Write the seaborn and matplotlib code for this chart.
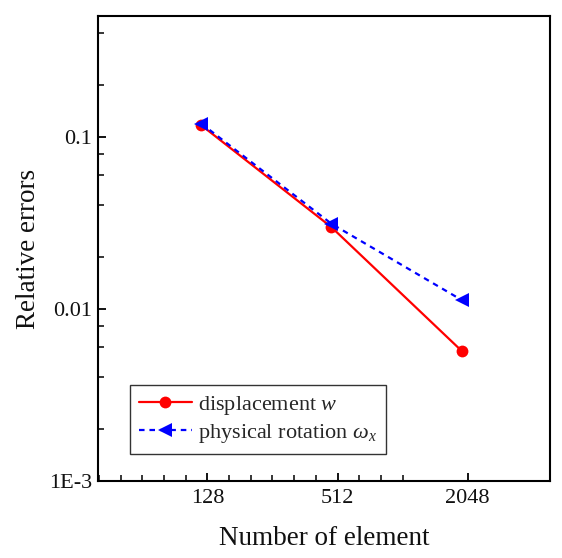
import numpy as np
import pandas as pd
import matplotlib
matplotlib.use("Agg")
import matplotlib.pyplot as plt
import matplotlib.ticker as mticker
import seaborn as sns

# ---- data ----
elements = [120, 480, 1920]
disp_err = [0.117, 0.0299, 0.00571]
rot_err = [0.1197, 0.0313, 0.01128]
series_names = ["displacement $w$", "physical rotation $\\omega_x$"]
xtick_vals = [128, 512, 2048]
xtick_labels = ["128", "512", "2048"]
ytick_vals = [0.001, 0.01, 0.1]
ytick_labels = ["1E-3", "0.01", "0.1"]

sns.set_style("ticks")
plt.rcParams["font.family"] = ["Liberation Serif", "DejaVu Serif"]
plt.rcParams["mathtext.fontset"] = "custom"
plt.rcParams["mathtext.rm"] = "Liberation Serif"
plt.rcParams["mathtext.it"] = "Liberation Serif:italic"
plt.rcParams["mathtext.bf"] = "Liberation Serif:bold"

df = pd.DataFrame({
    "x": elements * 2,
    "y": disp_err + rot_err,
    "series": [series_names[0]] * len(elements) + [series_names[1]] * len(elements),
})

fig = plt.figure(figsize=(5.62, 5.58), dpi=100)
ax = fig.add_axes([0.1738, 0.138, 0.8048, 0.8333])

d0 = df[df["series"] == series_names[0]]
d1 = df[df["series"] == series_names[1]]
sns.lineplot(data=d0, x="x", y="y", ax=ax, color="#FF0000", marker="o",
             markersize=8.5, markeredgewidth=0, linewidth=1.6,
             label=series_names[0], sort=False)
sns.lineplot(data=d1, x="x", y="y", ax=ax, color="#0000FF", marker="<",
             markersize=10.5, markeredgewidth=0, linewidth=1.6,
             linestyle=(0, (2.5, 2.2)), label=series_names[1], sort=False)

ax.set_xscale("log", base=2)
ax.set_yscale("log")
ax.set_xlim(39.8, 4920)
ax.set_ylim(0.001, 0.505)

ax.xaxis.set_major_locator(mticker.FixedLocator(xtick_vals))
ax.xaxis.set_major_formatter(mticker.FixedFormatter(xtick_labels))
minor_x = [128 * 2 ** (k / 3) for k in range(-6, 10) if k % 6 != 0]
ax.xaxis.set_minor_locator(mticker.FixedLocator(minor_x))
ax.xaxis.set_minor_formatter(mticker.NullFormatter())

ax.yaxis.set_major_locator(mticker.FixedLocator(ytick_vals))
ax.yaxis.set_major_formatter(mticker.FixedFormatter(ytick_labels))
ax.yaxis.set_minor_locator(mticker.LogLocator(base=10, subs=[2, 4, 6, 8]))
ax.yaxis.set_minor_formatter(mticker.NullFormatter())

ax.tick_params(which="major", direction="in", length=6, width=1.3,
               labelsize=16, color="black", labelcolor="#111111",
               top=False, right=False)
ax.tick_params(which="minor", direction="in", length=4, width=1.1,
               color="black", top=False, right=False)
ax.tick_params(axis="x", which="major", pad=6)
ax.tick_params(axis="y", which="major", pad=4)

for s in ax.spines.values():
    s.set_visible(True)
    s.set_color("black")
    s.set_linewidth(1.5)

ax.set_xlabel("Number of element", fontsize=19.5, labelpad=13, color="#111111")
ax.set_ylabel("Relative errors", fontsize=19.5, labelpad=6, color="#111111")

leg = ax.legend(loc="lower left", bbox_to_anchor=(0.0725, 0.058),
                borderaxespad=0, fontsize=16, frameon=True, fancybox=False,
                edgecolor="#333333", framealpha=1, handlelength=2.35,
                handletextpad=0.3, borderpad=0.4, labelspacing=0.25)
leg.get_frame().set_linewidth(1.0)

fig.savefig("out.png", dpi=100, facecolor="white")
